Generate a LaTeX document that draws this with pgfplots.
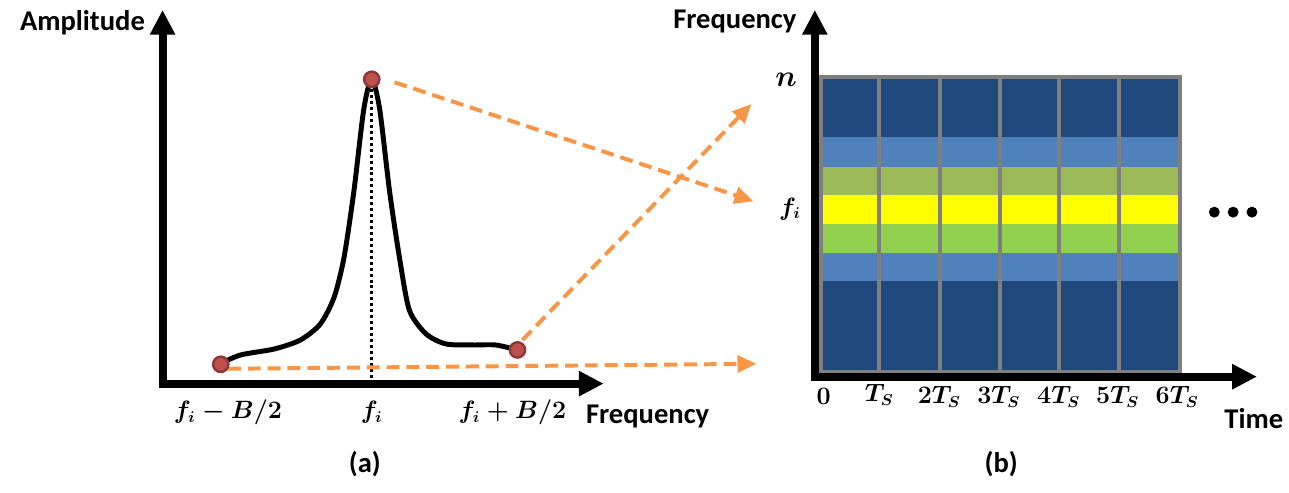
\documentclass[border=0pt]{standalone}
\usepackage{pgfplots}
\pgfplotsset{compat=1.18}
\usetikzlibrary{arrows.meta}
\usepackage{fontspec}
\setmainfont{Carlito}
\definecolor{orng}{HTML}{F79646}
\definecolor{mfill}{HTML}{C0504D}
\definecolor{mdraw}{HTML}{8C3836}
\definecolor{dblue}{HTML}{1F497D}
\definecolor{lblue}{HTML}{4F81BD}
\definecolor{olive}{HTML}{9BBB59}
\definecolor{yell}{HTML}{FFFF00}
\definecolor{lgreen}{HTML}{92D050}
\definecolor{gry}{HTML}{7F7F7F}
\begin{document}
\begin{tikzpicture}
\begin{axis}[
  scale only axis, width=25.78cm, height=9.94cm,
  xmin=0, xmax=1289, ymin=0, ymax=497, y dir=reverse,
  hide axis, clip=false,
  every node/.append style={inner sep=0pt, outer sep=0pt},
]
\path (rel axis cs:0,0) rectangle (rel axis cs:1,1);
% ---------- panel (a) ----------
% axes
\addplot[black, line width=0.16cm, -{Triangle[length=0.5cm,width=0.48cm]}] coordinates {(164,391) (164,10)};
\addplot[black, line width=0.16cm, -{Triangle[length=0.5cm,width=0.48cm]}] coordinates {(160,387) (609,387)};
% dotted center line
\addplot[black, line width=0.06cm, dash pattern=on 0.06cm off 0.06cm] coordinates {(375,84) (375,384)};
% orange dashed arrows
\addplot[orng, line width=0.08cm, dash pattern=on 0.26cm off 0.14cm, -{Triangle[length=0.38cm,width=0.34cm]}] coordinates {(230,372) (763,367)};
\addplot[orng, line width=0.08cm, dash pattern=on 0.26cm off 0.14cm, -{Triangle[length=0.38cm,width=0.34cm]}] coordinates {(398,83) (760,203)};
\addplot[orng, line width=0.08cm, dash pattern=on 0.26cm off 0.14cm, -{Triangle[length=0.38cm,width=0.34cm]}] coordinates {(527,343) (758,105)};
% spectrum curve
\addplot[black, line width=0.1cm, smooth, tension=0.45] coordinates {
(222.7,366.7) (243,358) (277,352) (303,343) (323,327) (337,300) (347,260)
(357,193) (367,110) (375,80) (383,110) (393,193) (403,260) (413,313)
(430,337) (450,347) (477,348) (500,348) (522,353)};
% markers
\addplot[only marks, mark=*, mark size=4.4pt, mark options={fill=mfill, draw=mdraw, line width=1.4pt}] coordinates {(222.7,367.5) (375,80) (522,353)};
% labels
\node[anchor=base west, font=\fontsize{16.4}{19}\selectfont\bfseries] at (axis cs:14,31) {Amplitude};
\node[anchor=base west, font=\fontsize{16.4}{19}\selectfont\bfseries] at (axis cs:585,427) {Frequency};
\node[anchor=base, font=\fontsize{13.5}{15}\selectfont\boldmath] at (axis cs:230,422) {$f_i - B/2$};
\node[anchor=base, font=\fontsize{13.5}{15}\selectfont\boldmath] at (axis cs:375,422) {$f_i$};
\node[anchor=base, font=\fontsize{13.5}{15}\selectfont\boldmath] at (axis cs:517,422) {$f_i + B/2$};
\node[anchor=base, font=\fontsize{16.4}{19}\selectfont\bfseries] at (axis cs:368,477) {(a)};
% ---------- panel (b) ----------
% colour bands
\addplot[fill=dblue, draw=none] coordinates {(828,78) (1190,78) (1190,138) (828,138)} -- cycle;
\addplot[fill=lblue, draw=none] coordinates {(828,138) (1190,138) (1190,168) (828,168)} -- cycle;
\addplot[fill=olive, draw=none] coordinates {(828,168) (1190,168) (1190,197) (828,197)} -- cycle;
\addplot[fill=yell, draw=none] coordinates {(828,197) (1190,197) (1190,226) (828,226)} -- cycle;
\addplot[fill=lgreen, draw=none] coordinates {(828,226) (1190,226) (1190,255) (828,255)} -- cycle;
\addplot[fill=lblue, draw=none] coordinates {(828,255) (1190,255) (1190,283) (828,283)} -- cycle;
\addplot[fill=dblue, draw=none] coordinates {(828,283) (1190,283) (1190,375) (828,375)} -- cycle;
% grid lines
\addplot[gry, line width=0.08cm] coordinates {(828,78) (1190,78) (1190,375) (828,375)} -- cycle;
\addplot[gry, line width=0.08cm] coordinates {(887,78) (887,375)};
\addplot[gry, line width=0.08cm] coordinates {(948,78) (948,375)};
\addplot[gry, line width=0.08cm] coordinates {(1009,78) (1009,375)};
\addplot[gry, line width=0.08cm] coordinates {(1068,78) (1068,375)};
\addplot[gry, line width=0.08cm] coordinates {(1129,78) (1129,375)};
% axes
\addplot[black, line width=0.16cm, -{Triangle[length=0.5cm,width=0.48cm]}] coordinates {(822,384) (822,10)};
\addplot[black, line width=0.16cm, -{Triangle[length=0.5cm,width=0.48cm]}] coordinates {(818,380) (1268,380)};
% dots
\addplot[only marks, mark=*, mark size=2.9pt, black] coordinates {(1225,214) (1244,214) (1263,214)};
% labels
\node[anchor=base west, font=\fontsize{16.4}{19}\selectfont\bfseries] at (axis cs:673,29) {Frequency};
\node[anchor=base west, font=\fontsize{16.4}{19}\selectfont\bfseries] at (axis cs:1229,432) {Time};
\node[anchor=base, font=\fontsize{16}{18}\selectfont\boldmath] at (axis cs:793,87) {$n$};
\node[anchor=base, font=\fontsize{13.5}{15}\selectfont\boldmath] at (axis cs:797,217) {$f_i$};
\node[anchor=base, font=\fontsize{13.5}{15}\selectfont\boldmath] at (axis cs:831,408) {$0$};
\node[anchor=base, font=\fontsize{13.5}{15}\selectfont\boldmath] at (axis cs:887,405) {$T_S$};
\node[anchor=base, font=\fontsize{13.5}{15}\selectfont\boldmath] at (axis cs:947.5,407) {$2T_S$};
\node[anchor=base, font=\fontsize{13.5}{15}\selectfont\boldmath] at (axis cs:1007.5,407) {$3T_S$};
\node[anchor=base, font=\fontsize{13.5}{15}\selectfont\boldmath] at (axis cs:1068,407) {$4T_S$};
\node[anchor=base, font=\fontsize{13.5}{15}\selectfont\boldmath] at (axis cs:1127.5,407) {$5T_S$};
\node[anchor=base, font=\fontsize{13.5}{15}\selectfont\boldmath] at (axis cs:1187.5,407) {$6T_S$};
\node[anchor=base, font=\fontsize{16.4}{19}\selectfont\bfseries] at (axis cs:1010,477) {(b)};
\end{axis}
\end{tikzpicture}
\end{document}
